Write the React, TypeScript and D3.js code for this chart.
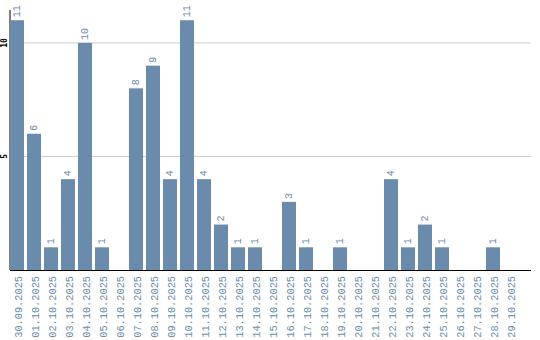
import React from "react";
import * as d3 from "d3";

const dates = [
  "30.09.2025", "01.10.2025", "02.10.2025", "03.10.2025", "04.10.2025", "05.10.2025",
  "06.10.2025", "07.10.2025", "08.10.2025", "09.10.2025", "10.10.2025", "11.10.2025",
  "12.10.2025", "13.10.2025", "14.10.2025", "15.10.2025", "16.10.2025", "17.10.2025",
  "18.10.2025", "19.10.2025", "20.10.2025", "21.10.2025", "22.10.2025", "23.10.2025",
  "24.10.2025", "25.10.2025", "26.10.2025", "27.10.2025", "28.10.2025", "29.10.2025",
];
const counts = [11, 6, 1, 4, 10, 1, 0, 8, 9, 4, 11, 4, 2, 1, 1, 0, 3, 1, 0, 1, 0, 0, 4, 1, 2, 1, 0, 0, 1, 0];
const yTicks = [5, 10];

const W = 540;
const H = 340;
const left = 10;
const right = 531;
const baseY = 270;
const topY = 10;
const barColor = "#6a8bab";
const textColor = "#6b8cab";
const mono = "'Liberation Mono', monospace";

export default function App() {
  const x = d3
    .scaleBand<string>()
    .domain(dates)
    .range([left, 517])
    .paddingInner(3 / 17)
    .paddingOuter(0);
  const y = d3.scaleLinear().domain([0, 11.45]).range([baseY, topY]);
  const bw = x.bandwidth();

  return (
    <svg
      width={W}
      height={H}
      style={{ position: "fixed", left: 0, top: 0, background: "#fff" }}
    >
      {yTicks.map((t) => (
        <g key={t}>
          <line x1={left} x2={right} y1={y(t)} y2={y(t)} stroke="#cccccc" strokeWidth={1} />
          <text
            transform={`translate(4.5,${y(t)}) rotate(-90)`}
            textAnchor="middle"
            dy="0.35em"
            fontFamily="'DejaVu Sans Mono', monospace"
            fontWeight="bold"
            fontSize={8}
            fill="#000"
          >
            {t}
          </text>
        </g>
      ))}
      <line x1={left} x2={left} y1={topY} y2={baseY} stroke="#000" strokeWidth={1} />
      {dates.map((d, i) => {
        const v = counts[i];
        const cx = (x(d) as number) + bw / 2;
        return (
          <g key={d}>
            {v > 0 && (
              <rect x={x(d)} y={y(v)} width={bw} height={baseY - y(v)} fill={barColor} />
            )}
            {v > 0 && (
              <text
                transform={`translate(${cx - 1},${y(v) - 3}) rotate(-90)`}
                textAnchor="start"
                dy="0.35em"
                fontFamily={mono}
                fontSize={10}
                fill={textColor}
              >
                {v}
              </text>
            )}
            <text
              transform={`translate(${cx + 1.5},${baseY + 6}) rotate(-90)`}
              textAnchor="end"
              dy="0.35em"
              fontFamily={mono}
              fontSize={10.3}
              fill={textColor}
            >
              {d}
            </text>
          </g>
        );
      })}
      <line x1={left} x2={right} y1={baseY + 0.5} y2={baseY + 0.5} stroke="#000" strokeWidth={1} />
    </svg>
  );
}
